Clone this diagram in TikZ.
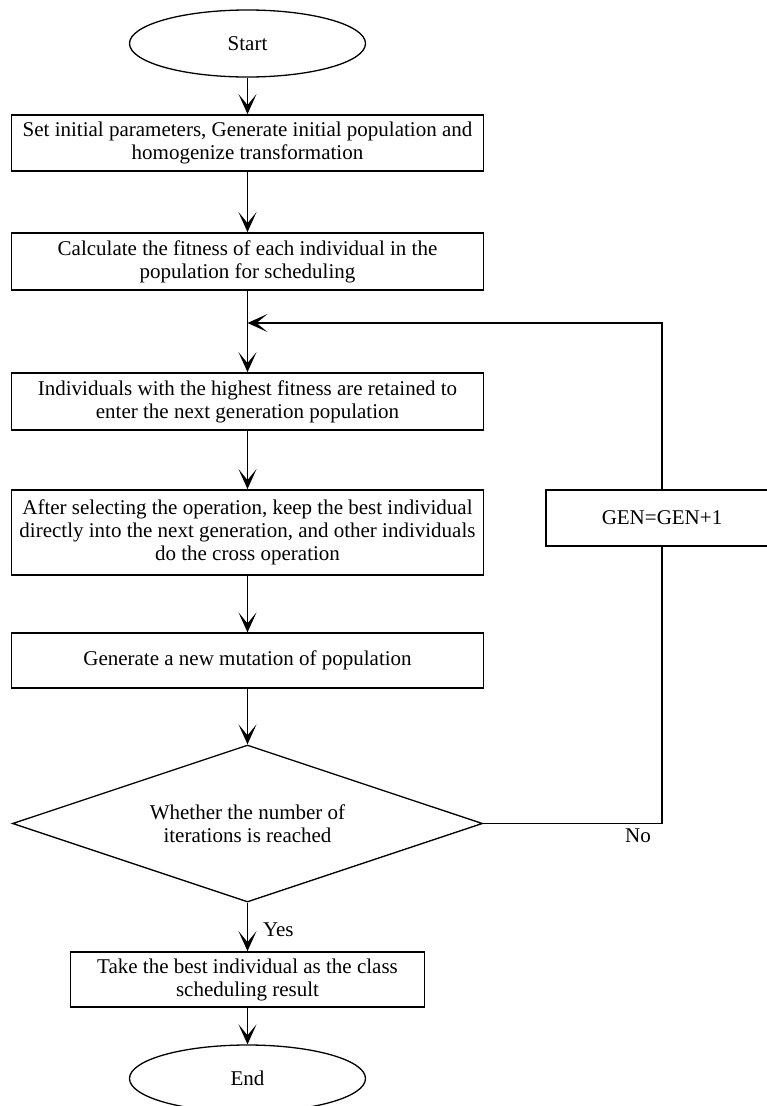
\documentclass[tikz,border=0pt]{standalone}
\usepackage{fontspec}
\setmainfont{Liberation Serif}
\usetikzlibrary{shapes.geometric,arrows.meta}
\begin{document}
\begin{tikzpicture}[x=1pt,y=-1pt,
  every node/.style={font=\fontsize{21}{23}\selectfont, align=center, inner sep=0pt},
  procbox/.style={draw, rectangle, line width=1.8pt},
  thinbox/.style={draw, rectangle, line width=1.2pt},
  term/.style={draw, ellipse, line width=1.3pt, minimum width=236pt, minimum height=67pt},
  decision/.style={draw, diamond, aspect=3, line width=1.3pt, minimum width=470pt, minimum height=157pt},
  conn/.style={line width=1.2pt, -{Stealth[length=20pt,width=18pt,inset=11pt]}},
  plain/.style={line width=1.2pt},
  lbl/.style={font=\fontsize{21}{23}\selectfont}
]
\useasboundingbox (0,0) rectangle (767,1106);

\node[term] (start) at (247.5,43.5) {Start};
\node[procbox, minimum width=472pt, minimum height=56pt] (b1) at (247.5,143)
  {Set initial parameters, Generate initial population and\\homogenize transformation};
\node[procbox, minimum width=472pt, minimum height=57pt] (b2) at (247.5,261.5)
  {Calculate the fitness of each individual in the\\population for scheduling};
\node[procbox, minimum width=472pt, minimum height=57pt] (b3) at (247.5,401.5)
  {Individuals with the highest fitness are retained to\\enter the next generation population};
\node[procbox, minimum width=472pt, minimum height=85pt] (b4) at (247.5,532.5)
  {After selecting the operation, keep the best individual\\directly into the next generation, and other individuals\\do the cross operation};
\node[thinbox, minimum width=472pt, minimum height=55pt] (b5) at (247.5,660.5)
  {Generate a new mutation of population};
\node[decision] (dia) at (247.5,823.5)
  {Whether the number of\\iterations is reached};
\node[procbox, minimum width=354pt, minimum height=55pt] (b6) at (247.5,979.5)
  {Take the best individual as the class\\scheduling result};
\node[term] (end) at (247.5,1078.5) {End};
\node[procbox, minimum width=232pt, minimum height=56pt] (gen) at (662,518) {GEN=GEN+1};

\coordinate (loop) at (247.5,323);
\coordinate (corner) at (662,823.5);

\draw[conn] (start) -- (b1);
\draw[conn] (b1) -- (b2);
\draw[conn] (b2) -- (b3);
\draw[conn] (b3) -- (b4);
\draw[conn] (b4) -- (b5);
\draw[conn] (b5) -- (dia);
\draw[conn] (dia) -- node[lbl, anchor=west, xshift=15pt, yshift=-3pt] (yes) {Yes} (b6);
\draw[conn] (b6) -- (end);
\draw[plain] (dia.east) -- (corner) -- (gen.south);
\draw[conn] (gen.north) |- (loop);
\node[lbl] (no) at (638,836) {No};
\end{tikzpicture}
\end{document}
